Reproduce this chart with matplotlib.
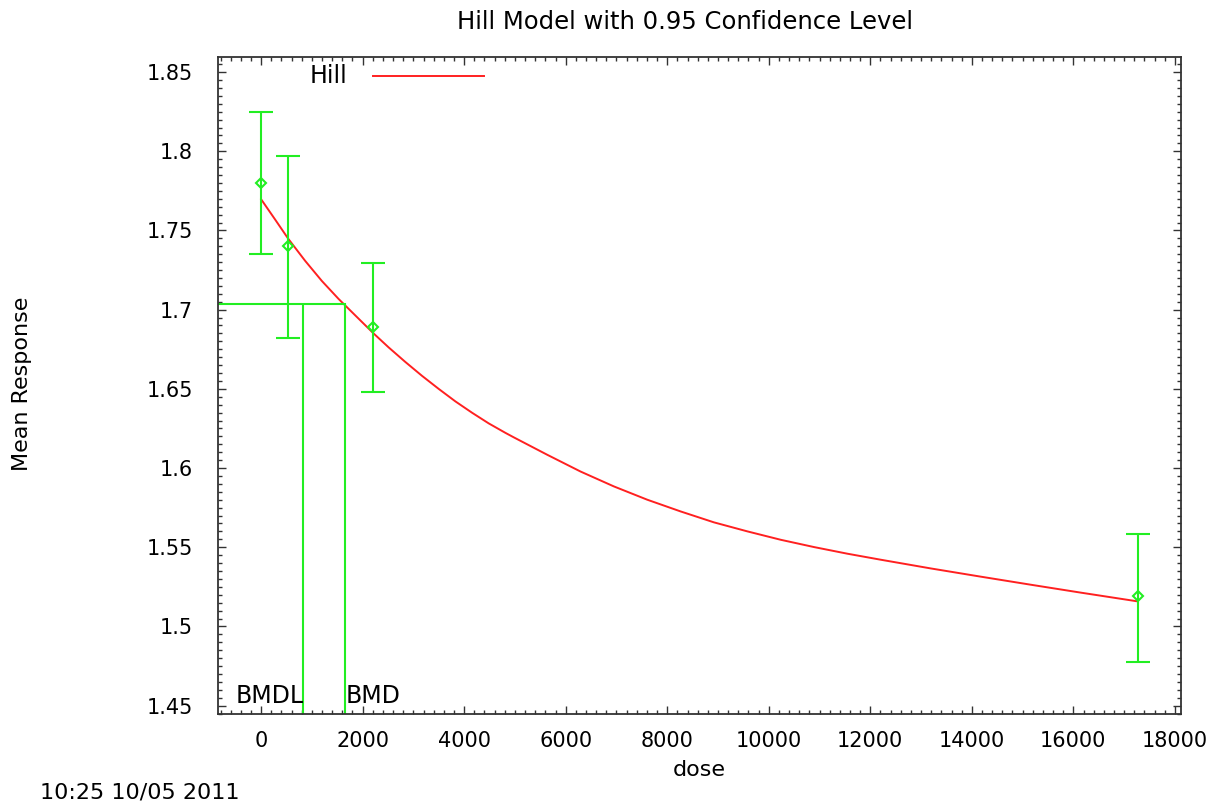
import matplotlib
matplotlib.use("Agg")
import matplotlib.pyplot as plt
from matplotlib.ticker import MultipleLocator

plt.rcParams['font.family'] = ['DejaVu Sans']

# observed dose groups: mean response with 95% confidence limits
doses = [0, 525, 2200, 17270]
means = [1.780, 1.740, 1.689, 1.519]
ci_upper = [1.8245, 1.7968, 1.7293, 1.5586]
ci_lower = [1.7352, 1.6821, 1.6483, 1.4778]

# fitted Hill curve
curve_dose = [0, 276, 538, 868, 1197, 1525, 1854, 2215, 2511, 2840, 3170,
              3497, 3826, 4156, 4483, 4813, 4976, 5635, 6292, 6949, 7607,
              8264, 8921, 9580, 10237, 10893, 11552, 12209, 13195, 14181,
              15168, 16154, 17270]
curve_resp = [1.7697, 1.7569, 1.7446, 1.7308, 1.7181, 1.7068, 1.6964, 1.6850,
              1.6762, 1.6670, 1.6582, 1.6500, 1.6421, 1.6349, 1.6282, 1.6222,
              1.6194, 1.6084, 1.5978, 1.5884, 1.5800, 1.5726, 1.5657, 1.5600,
              1.5547, 1.5501, 1.5459, 1.5421, 1.5366, 1.5314, 1.5263, 1.5213,
              1.5158]

bmd = 1657
bmdl = 834
bmr_level = 1.7036

green = '#22ee22'
red = '#ff2020'

fig = plt.figure(figsize=(12.17, 8.02), dpi=100)
ax = fig.add_axes([0.1791, 0.1097, 0.7913, 0.8192])

ax.set_xlim(-850, 18120)
ax.set_ylim(1.4447, 1.8595)
ylo = ax.get_ylim()[0]
xlo = ax.get_xlim()[0]

# data with confidence bars
yerr = [[m - l for m, l in zip(means, ci_lower)],
        [u - m for m, u in zip(means, ci_upper)]]
ax.errorbar(doses, means, yerr=yerr, fmt='D', color=green, ms=5,
            mfc='none', mew=1.5, elinewidth=1.5, capsize=8.5, capthick=1.5,
            zorder=3)

# model fit
ax.plot(curve_dose, curve_resp, color=red, lw=1.4, zorder=2)

# BMD / BMDL markers
ax.plot([xlo, bmd], [bmr_level, bmr_level], color=green, lw=1.5)
ax.vlines([bmdl, bmd], ylo, bmr_level, color=green, lw=1.5)
ax.text(bmdl, 1.4515, 'BMDL', ha='right', va='baseline', fontsize=17)
ax.text(bmd, 1.4515, 'BMD', ha='left', va='baseline', fontsize=17)

# legend drawn gnuplot-style
ax.text(0.0955, 0.971, 'Hill', transform=ax.transAxes, ha='left',
        va='center', fontsize=17)
ax.plot([0.161, 0.276], [0.971, 0.971], color=red, lw=1.4,
        transform=ax.transAxes)

ax.xaxis.set_major_locator(MultipleLocator(2000))
ax.xaxis.set_minor_locator(MultipleLocator(200))
ax.yaxis.set_major_locator(MultipleLocator(0.05))
ax.yaxis.set_minor_locator(MultipleLocator(0.005))
ax.yaxis.set_major_formatter(plt.FuncFormatter(lambda v, p: f'{v:g}'))

ax.tick_params(which='both', direction='in', top=True, right=True,
               color='#333333', labelsize=15)
ax.tick_params(which='major', length=6, width=1)
ax.tick_params(which='minor', length=3, width=1)
ax.tick_params(axis='y', pad=18)
ax.tick_params(axis='x', pad=12)
for s in ax.spines.values():
    s.set_color('#333333')
    s.set_linewidth(1.3)

ax.set_xlabel('dose', fontsize=16)
ax.set_ylabel('Mean Response', fontsize=16)
ax.xaxis.set_label_coords(0.5, -0.0852)
ax.xaxis.label.set_va('center')
ax.yaxis.set_label_coords(-0.2035, 0.503)
ax.yaxis.label.set_va('center')

fig.text(0.563, 0.9726, 'Hill Model with 0.95 Confidence Level',
         ha='center', va='center', fontsize=17.5)
fig.text(40 / 1217, 1 - 792 / 802, '10:25 10/05 2011', ha='left',
         va='center', fontsize=16)

fig.savefig('out.png', dpi=100)
